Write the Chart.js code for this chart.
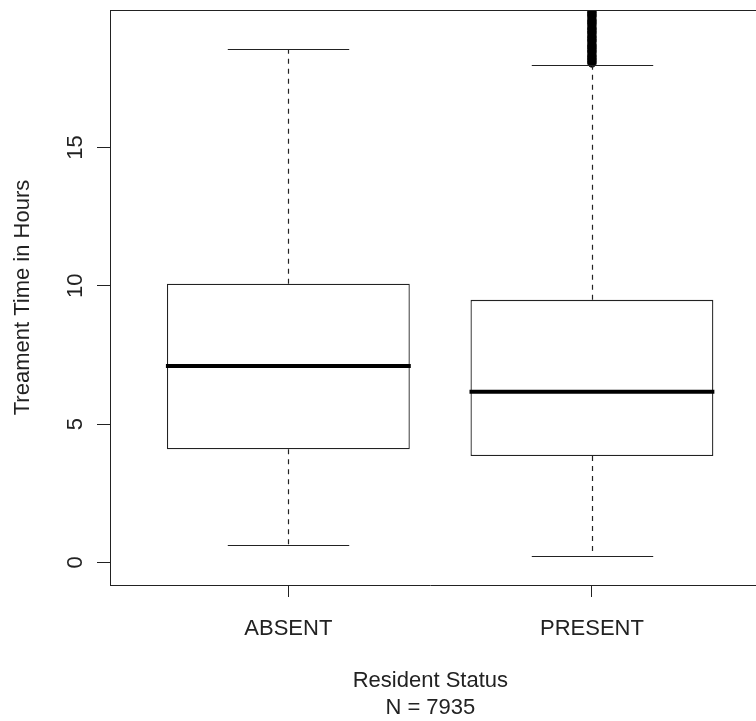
<!DOCTYPE html>
<html>
<head>
<meta charset="utf-8">
<title>Treatment time by resident status</title>
<script src="https://cdn.jsdelivr.net/npm/chart.js@4/dist/chart.umd.min.js"></script>
<style>
  html, body { margin: 0; padding: 0; background: #fff; overflow: hidden; }
</style>
</head>
<body>
<canvas id="boxChart" width="756" height="721"></canvas>
<script>
// five-number summaries per group (hours)
const categories = ['ABSENT', 'PRESENT'];
const lowerWhisker = [0.62, 0.22];
const q1Values = [4.09, 3.84];
const medians = [7.10, 6.17];
const q3Values = [10.07, 9.49];
const upperWhisker = [18.55, 17.97];
// outliers of the PRESENT group, above its upper whisker
const presentOutliers = [18.06, 18.15, 18.24, 18.33, 18.45, 18.54, 18.63, 18.72, 18.84, 18.93, 19.02, 19.14, 19.23, 19.32, 19.44, 19.53, 19.62, 19.74, 19.83, 19.92, 20.05, 20.2];
const yTicks = [0, 5, 10, 15];
const sampleSize = 7935;

const FONT = { family: "'Liberation Sans', Arial, sans-serif", size: 22 };
const INK = '#222';

// R-style box extras: median, dashed whiskers, staples, frame lines, rotated y labels
const boxExtras = {
    id: 'boxExtras',
    afterDatasetsDraw(chart) {
        const { ctx, chartArea } = chart;
        const y = chart.scales.y;
        const bars = chart.getDatasetMeta(0).data;
        ctx.save();
        ctx.beginPath();
        ctx.rect(chartArea.left, chartArea.top, chartArea.right - chartArea.left, chartArea.bottom - chartArea.top);
        ctx.clip();
        bars.forEach((bar, i) => {
            const half = bar.width / 2;
            const cx = Math.round(bar.x) + 0.5;
            // whiskers
            ctx.strokeStyle = INK;
            ctx.lineWidth = 1.2;
            ctx.setLineDash([5, 5]);
            ctx.beginPath();
            ctx.moveTo(cx, y.getPixelForValue(q3Values[i]));
            ctx.lineTo(cx, y.getPixelForValue(upperWhisker[i]));
            ctx.moveTo(cx, y.getPixelForValue(q1Values[i]));
            ctx.lineTo(cx, y.getPixelForValue(lowerWhisker[i]));
            ctx.stroke();
            // staples
            ctx.setLineDash([]);
            ctx.beginPath();
            [upperWhisker[i], lowerWhisker[i]].forEach(v => {
                const py = Math.round(y.getPixelForValue(v)) + 0.5;
                ctx.moveTo(cx - half / 2, py);
                ctx.lineTo(cx + half / 2, py);
            });
            ctx.stroke();
            // median
            ctx.strokeStyle = '#000';
            ctx.lineWidth = 4;
            ctx.beginPath();
            const my = y.getPixelForValue(medians[i]);
            ctx.moveTo(bar.x - half - 1, my);
            ctx.lineTo(bar.x + half + 1, my);
            ctx.stroke();
        });
        ctx.restore();
    },
    afterDraw(chart) {
        const { ctx, chartArea } = chart;
        const y = chart.scales.y;
        ctx.save();
        // top and bottom frame lines run off the right edge
        ctx.strokeStyle = INK;
        ctx.lineWidth = 1;
        ctx.beginPath();
        ctx.moveTo(chartArea.left, chartArea.top + 0.5);
        ctx.lineTo(chart.width, chartArea.top + 0.5);
        ctx.moveTo(chartArea.right - 1, Math.round(chartArea.bottom) + 0.5);
        ctx.lineTo(chart.width, Math.round(chartArea.bottom) + 0.5);
        ctx.stroke();
        // y tick labels, rotated like R's las = 0
        ctx.fillStyle = INK;
        ctx.font = FONT.size + 'px ' + FONT.family;
        ctx.textAlign = 'center';
        ctx.textBaseline = 'alphabetic';
        yTicks.forEach(v => {
            ctx.save();
            ctx.translate(82, y.getPixelForValue(v));
            ctx.rotate(-Math.PI / 2);
            ctx.fillText(String(v), 0, 0);
            ctx.restore();
        });
        ctx.restore();
    }
};

const ctx = document.getElementById('boxChart').getContext('2d');
const boxChart = new Chart(ctx, {
    type: 'bar',
    data: {
        datasets: [{
            type: 'bar',
            data: categories.map((c, i) => ({ x: i + 1, y: [q1Values[i], q3Values[i]] })),
            backgroundColor: '#fff',
            borderColor: INK,
            borderWidth: 1.3,
            borderSkipped: false,
            barPercentage: 1,
            categoryPercentage: 0.8
        }, {
            type: 'scatter',
            data: presentOutliers.map(v => ({ x: 2, y: v })),
            pointRadius: 4.3,
            pointBackgroundColor: '#000',
            pointBorderColor: '#000',
            pointBorderWidth: 1,
            clip: 0
        }]
    },
    options: {
        responsive: false,
        animation: false,
        layout: { padding: { top: 10, left: 0, right: 0, bottom: 0 } },
        plugins: {
            legend: { display: false },
            tooltip: { enabled: false }
        },
        scales: {
            x: {
                type: 'linear',
                min: 0.4125,
                max: 2.523,
                offset: false,
                afterFit(scale) { scale.height = 136; },
                border: { display: true, color: INK, width: 1 },
                grid: { offset: false, drawOnChartArea: false, drawTicks: true, tickLength: 12, color: INK },
                ticks: {
                    stepSize: 1,
                    includeBounds: false,
                    padding: 19,
                    color: INK,
                    font: FONT,
                    callback: v => categories[v - 1] || ''
                },
                title: {
                    display: true,
                    text: ['Resident Status', `N = ${sampleSize}`],
                    color: INK,
                    font: { family: FONT.family, size: FONT.size, lineHeight: '27px' },
                    padding: { top: 0, bottom: 0 }
                }
            },
            y: {
                min: -0.82,
                max: 19.97,
                afterFit(scale) { scale.width = 110; },
                border: { display: true, color: INK, width: 1 },
                grid: { drawOnChartArea: false, drawTicks: true, tickLength: 13, color: INK },
                ticks: { stepSize: 5, includeBounds: false, display: false },
                title: {
                    display: true,
                    text: 'Treament Time in Hours',
                    color: INK,
                    font: FONT,
                    padding: { top: 10, bottom: 0 }
                }
            }
        }
    },
    plugins: [boxExtras]
});
</script>
</body>
</html>
